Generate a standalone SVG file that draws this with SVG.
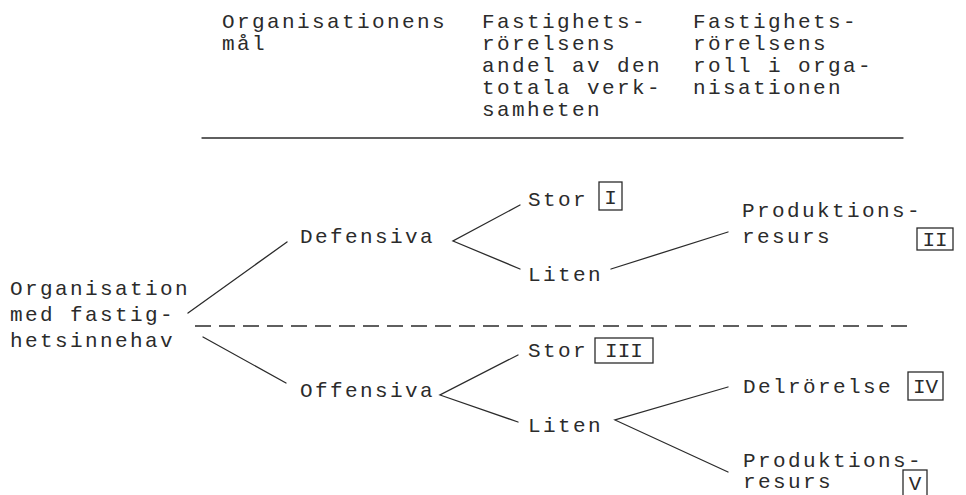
<svg xmlns="http://www.w3.org/2000/svg" width="966" height="495" viewBox="0 0 966 495">
<style>
  text { font-family: "Liberation Mono", "DejaVu Sans Mono", monospace; font-size: 21px; letter-spacing: 2.4px; fill: #2b2b2b; }
  .ln { stroke: #2b2b2b; stroke-width: 1.3; fill: none; stroke-linecap: round; }
  .box { stroke: #2b2b2b; stroke-width: 1.3; fill: none; }
  .num { text-anchor: middle; letter-spacing: 0px; }
  .dash { stroke: #2b2b2b; stroke-width: 1.6; stroke-dasharray: 16 8; fill: none; }
</style>
<rect width="966" height="495" fill="#ffffff"/>

<g id="header">
  <text x="222" y="28">Organisationens</text>
  <text x="222" y="50">mål</text>
  <text x="482" y="28">Fastighets-</text>
  <text x="482" y="50">rörelsens</text>
  <text x="482" y="72">andel av den</text>
  <text x="482" y="94">totala verk-</text>
  <text x="482" y="116">samheten</text>
  <text x="693" y="28">Fastighets-</text>
  <text x="693" y="50">rörelsens</text>
  <text x="693" y="72">roll i orga-</text>
  <text x="693" y="94">nisationen</text>
  <line class="ln" x1="202" y1="138" x2="903" y2="138"/>
</g>

<g id="connectors">
  <line class="ln" x1="188" y1="313" x2="287" y2="242"/>
  <line class="ln" x1="203" y1="337" x2="286" y2="383"/>
  <polyline class="ln" points="520,205 453,241 520,269"/>
  <line class="ln" x1="611" y1="269" x2="728" y2="232"/>
  <polyline class="ln" points="518,355 440,395 518,422"/>
  <polyline class="ln" points="728,387 615,420 728,472"/>
  <line class="dash" x1="195" y1="326" x2="910" y2="326"/>
</g>

<g id="n-org">
  <text x="10" y="295">Organisation</text>
  <text x="10" y="321">med fastig-</text>
  <text x="10" y="347">hetsinnehav</text>
</g>

<g id="n-defensiva"><text x="300" y="243">Defensiva</text></g>

<g id="n-stor1">
  <text x="528" y="206">Stor</text>
  <rect class="box" x="599" y="182" width="23" height="28"/>
  <text class="num" x="610.5" y="204">I</text>
</g>

<g id="n-liten1"><text x="528" y="281">Liten</text></g>

<g id="n-prod1">
  <text x="742" y="217">Produktions-</text>
  <text x="742" y="243">resurs</text>
  <rect class="box" x="917" y="228" width="36" height="22"/>
  <text class="num" x="935" y="246">II</text>
</g>

<g id="n-offensiva"><text x="300" y="397">Offensiva</text></g>

<g id="n-stor3">
  <text x="528" y="357">Stor</text>
  <rect class="box" x="595" y="338" width="58" height="25"/>
  <text class="num" x="624" y="357">III</text>
</g>

<g id="n-liten3"><text x="528" y="432">Liten</text></g>

<g id="n-delrorelse">
  <text x="743" y="393">Delrörelse</text>
  <rect class="box" x="908" y="372" width="35" height="28"/>
  <text class="num" x="925.5" y="393">IV</text>
</g>

<g id="n-prod5">
  <text x="743" y="467">Produktions-</text>
  <text x="743" y="488">resurs</text>
  <rect class="box" x="903" y="470" width="24" height="30"/>
  <text class="num" x="915" y="490">V</text>
</g>
</svg>
